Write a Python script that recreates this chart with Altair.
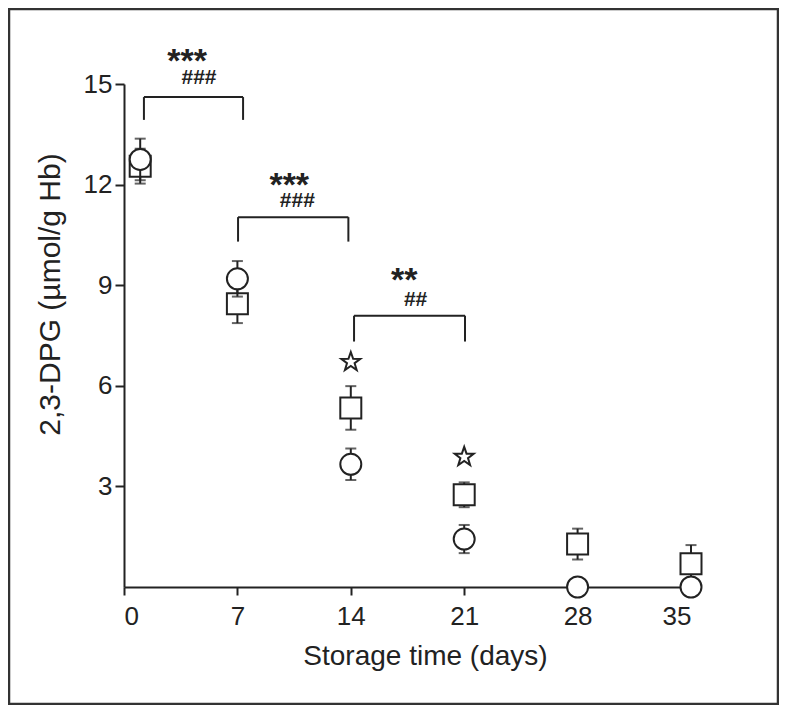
import altair as alt
import pandas as pd

# ---- data ----
days = [1, 7, 14, 21, 28, 35]
square_mean = [12.55, 8.45, 5.34, 2.75, 1.28, 0.69]
square_sem = [0.52, 0.58, 0.65, 0.37, 0.46, 0.56]
circle_mean = [12.75, 9.19, 3.66, 1.43, 0.0, 0.0]
circle_sem = [0.62, 0.53, 0.47, 0.42, 0.0, 0.0]

star_days = [14, 21]
star_y = [6.71, 3.88]

bracket_x1 = [1.23, 7.04, 14.2]
bracket_x2 = [7.35, 13.85, 21.05]
bracket_top = [14.61, 11.03, 8.09]
bracket_bottom = [13.93, 10.30, 7.32]

ast_text = ["***", "***", "**"]
ast_x = [3.89, 10.2, 17.3]
ast_y = [15.37, 11.67, 8.84]
hash_text = ["###", "###", "##"]
hash_x = [4.63, 10.7, 18.0]
hash_y = [15.0, 11.33, 8.38]

x_ticks = [0, 7, 14, 21, 28, 35]
y_ticks = [3, 6, 9, 12, 15]

INK = "#222222"
FONT = "Liberation Sans"

sq = pd.DataFrame({"day": days, "mean": square_mean, "sem": square_sem})
sq["lo"] = sq["mean"] - sq["sem"]
sq["hi"] = sq["mean"] + sq["sem"]
ci = pd.DataFrame({"day": days, "mean": circle_mean, "sem": circle_sem})
ci["lo"] = ci["mean"] - ci["sem"]
ci["hi"] = ci["mean"] + ci["sem"]
ci_err = ci[ci["sem"] > 0]
stars = pd.DataFrame({"day": star_days, "y": star_y})
br = pd.DataFrame({"x1": bracket_x1, "x2": bracket_x2, "top": bracket_top, "bot": bracket_bottom})
ast = pd.DataFrame({"x": ast_x, "y": ast_y, "t": ast_text})
hsh = pd.DataFrame({"x": hash_x, "y": hash_y, "t": hash_text})

xscale = alt.Scale(domain=[0, 35], nice=False, zero=True)
yscale = alt.Scale(domain=[0, 15], nice=False, zero=True)

xaxis = alt.Axis(values=x_ticks, title="Storage time (days)", grid=False,
                 labelFontSize=26, labelFont=FONT, labelColor=INK, labelPadding=8,
                 tickSize=8, tickWidth=2, tickColor=INK, domainWidth=2, domainColor=INK,
                 titleFont=FONT, titleFontSize=28, titleFontWeight="normal", titleColor=INK,
                 titleX=301, titleY=55, titleBaseline="top", titleAlign="center")
yaxis = alt.Axis(values=y_ticks, title="2,3-DPG (µmol/g Hb)", grid=False,
                 labelFontSize=26, labelFont=FONT, labelColor=INK, labelPadding=3,
                 tickSize=9, tickWidth=2, tickColor=INK, domainWidth=2, domainColor=INK,
                 titleFont=FONT, titleFontSize=30, titleFontWeight="normal", titleColor=INK,
                 titleAngle=270, titleX=-74, titleY=210, titleAlign="center",
                 titleBaseline="middle")

X = lambda f: alt.X(f, type="quantitative", scale=xscale, axis=xaxis)
Y = lambda f: alt.Y(f, type="quantitative", scale=yscale, axis=yaxis)

frame = alt.Chart(pd.DataFrame({"a": [0]})).mark_rect(
    fill="white", fillOpacity=0, stroke="#333333", strokeWidth=2.5
).encode(x=alt.value(-115), x2=alt.value(654), y=alt.value(-75), y2=alt.value(620))

def errs(df):
    rule = alt.Chart(df).mark_rule(color=INK, strokeWidth=2).encode(
        x=X("day"), y=Y("lo"), y2="hi")
    cap_hi = alt.Chart(df).mark_tick(color=INK, orient="horizontal", size=11, thickness=2).encode(
        x=X("day"), y=Y("hi"))
    cap_lo = alt.Chart(df).mark_tick(color=INK, orient="horizontal", size=11, thickness=2).encode(
        x=X("day"), y=Y("lo"))
    return rule + cap_hi + cap_lo

squares = alt.Chart(sq).mark_point(shape="square", size=441, filled=False, fill="white",
                                   fillOpacity=1, stroke=INK, strokeWidth=2, opacity=1).encode(
    x=X("day"), y=Y("mean"))
circles = alt.Chart(ci).mark_point(shape="circle", size=441, filled=False, fill="white",
                                   fillOpacity=1, stroke=INK, strokeWidth=2, opacity=1).encode(
    x=X("day"), y=Y("mean"))

star_path = ("M0,-1L0.235,-0.324L0.951,-0.309L0.38,0.124L0.588,0.809L0,0.4"
             "L-0.588,0.809L-0.38,0.124L-0.951,-0.309L-0.235,-0.324Z")
star_marks = alt.Chart(stars).mark_point(shape=star_path, size=400, filled=False,
                                         stroke=INK, strokeWidth=2, opacity=1).encode(
    x=X("day"), y=Y("y"))

br_top = alt.Chart(br).mark_rule(color=INK, strokeWidth=2).encode(
    x=X("x1"), x2="x2", y=Y("top"))
br_left = alt.Chart(br).mark_rule(color=INK, strokeWidth=2).encode(
    x=X("x1"), y=Y("bot"), y2="top")
br_right = alt.Chart(br).mark_rule(color=INK, strokeWidth=2).encode(
    x=X("x2"), y=Y("bot"), y2="top")

ast_marks = alt.Chart(ast).mark_text(font=FONT, fontSize=34, fontWeight="bold", color=INK,
                                     align="center", baseline="alphabetic").encode(
    x=X("x"), y=Y("y"), text="t:N")
hash_marks = alt.Chart(hsh).mark_text(font=FONT, fontSize=21, fontWeight="bold", color=INK,
                                      align="center", baseline="alphabetic").encode(
    x=X("x"), y=Y("y"), text="t:N")

chart = alt.layer(
    frame, br_top, br_left, br_right,
    errs(sq), squares, errs(ci_err), circles, star_marks, ast_marks, hash_marks
).properties(
    width=567, height=503,
    autosize=alt.AutoSizeParams(type="none"),
    padding={"left": 116, "top": 76, "right": 88, "bottom": 118},
    background="white",
).configure_view(strokeWidth=0)

chart.save("out.html", embed_options={"renderer": "svg", "actions": False})
